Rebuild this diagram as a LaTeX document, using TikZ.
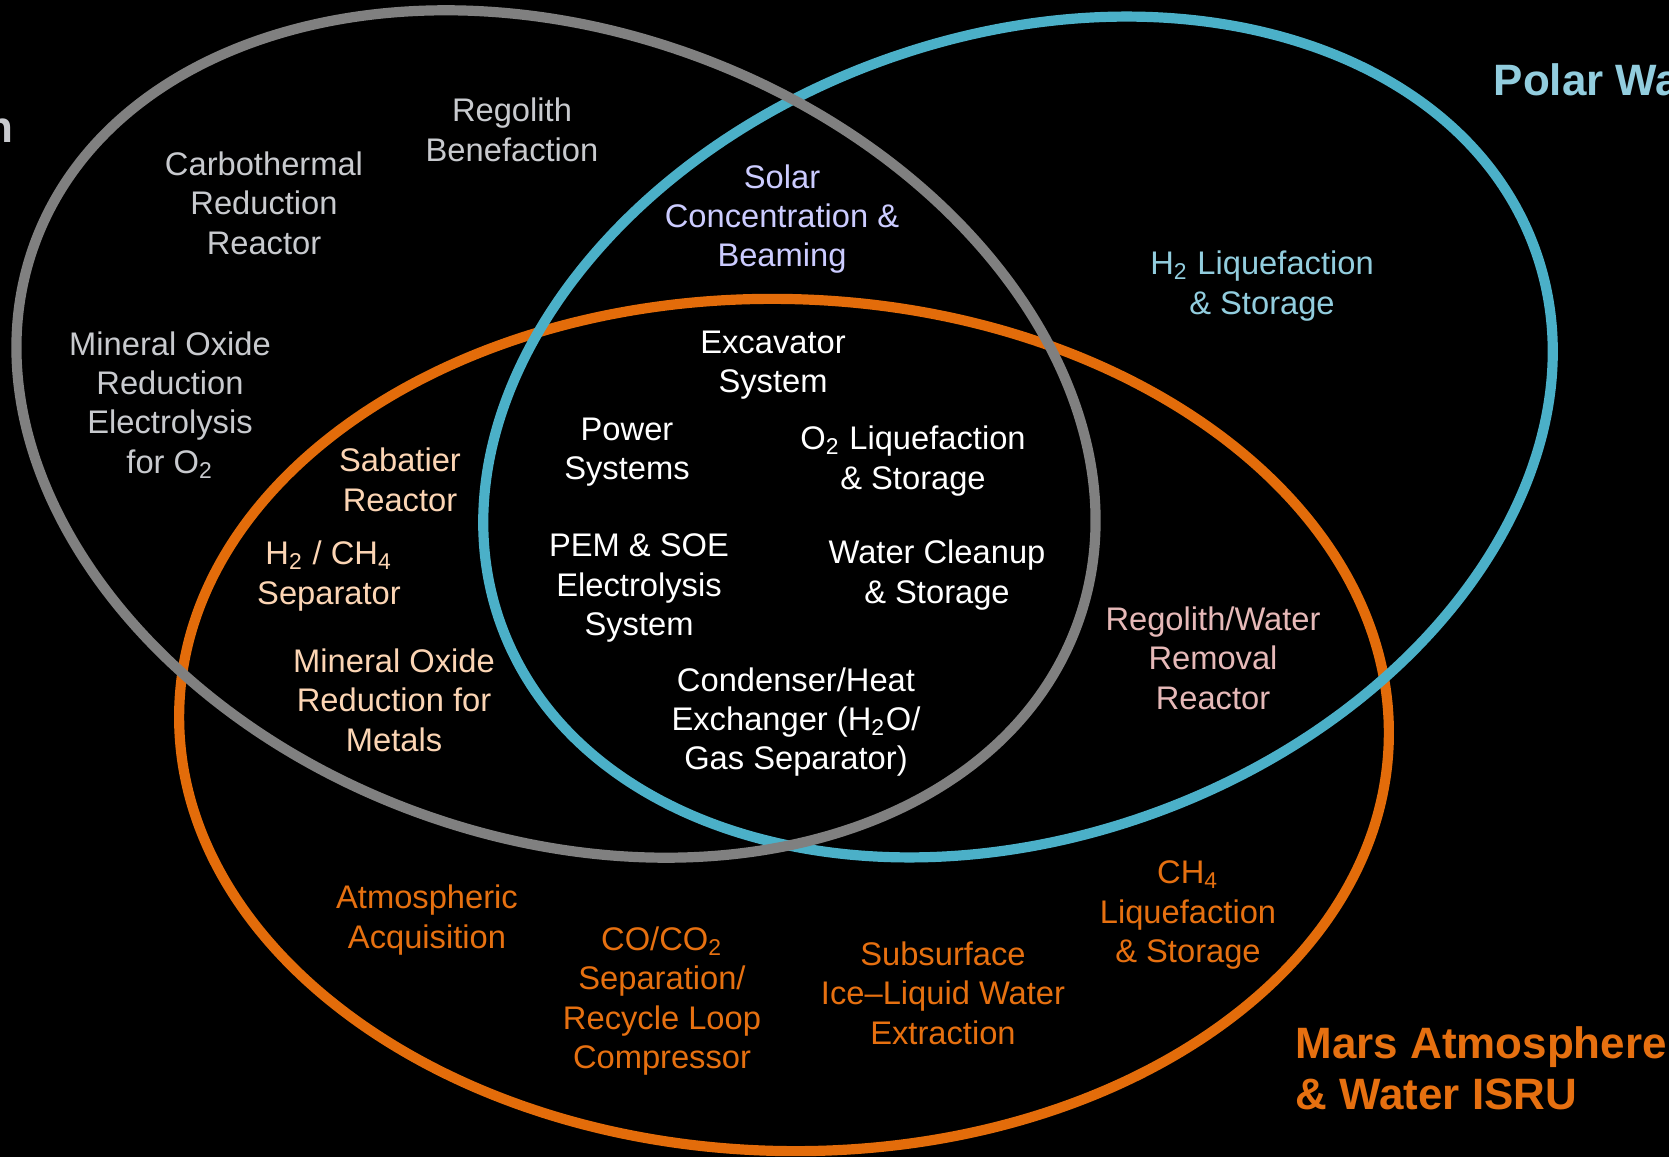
\documentclass[tikz,border=0pt]{standalone}
\usepackage{fontspec}
\setmainfont{Liberation Sans}
\definecolor{ringgray}{RGB}{128,128,128}
\definecolor{ringblue}{RGB}{75,176,200}
\definecolor{ringorange}{RGB}{227,108,10}
\definecolor{lunargray}{RGB}{200,202,206}
\definecolor{solarlilac}{RGB}{204,204,255}
\definecolor{polarblue}{RGB}{146,205,222}
\definecolor{regpink}{RGB}{230,185,184}
\definecolor{marsorange}{RGB}{230,112,16}
\definecolor{peach}{RGB}{252,213,180}
\usetikzlibrary{positioning}

\begin{document}
\begin{tikzpicture}[
    ring/.style={line width=2.9pt},
    item/.style={inner sep=0pt,align=center,font=\fontsize{9.3pt}{11.2pt}\selectfont},
    title/.style={inner sep=0pt,align=left,font=\fontsize{12.5pt}{14.5pt}\selectfont\bfseries}
]
    \fill[black] (0,0) rectangle (16.69,11.57);
    \useasboundingbox (0,0) rectangle (16.69,11.57);

    \draw[ring,ringorange,rotate around={-1.5:(7.84,4.32)}] (7.84,4.32) ellipse (6.05 and 4.26);
    \draw[ring,ringblue,rotate around={20:(10.18,7.20)}] (10.18,7.20) ellipse (5.50 and 4.00);
    \draw[ring,ringgray,rotate around={-20:(5.56,7.23)}] (5.56,7.23) ellipse (5.55 and 4.03);

    \node[item,lunargray] (regben) at (5.12,10.27) {Regolith\\Benefaction};
    \node[item,lunargray] (carbo) at (2.64,9.54) {Carbothermal\\Reduction\\Reactor};
    \node[item,lunargray] (moxel) at (1.70,7.52) {Mineral Oxide\\Reduction\\Electrolysis\\for O\textsubscript{2}};
    \node[item,solarlilac] (solar) at (7.82,9.38) {Solar\\Concentration \&\\Beaming};
    \node[item,polarblue] (htwoliq) at (12.62,8.71) {H\textsubscript{2} Liquefaction\\\& Storage};
    \node[item,white] (excav) at (7.73,7.92) {Excavator\\System};
    \node[item,white] (power) at (6.27,7.05) {Power\\Systems};
    \node[item,white] (otwoliq) at (9.13,6.96) {O\textsubscript{2} Liquefaction\\\& Storage};
    \node[item,peach] (sabat) at (4.00,6.77) {Sabatier\\Reactor};
    \node[item,peach] (hsep) at (3.29,5.81) {H\textsubscript{2} / CH\textsubscript{4}\\Separator};
    \node[item,white] (pem) at (6.39,5.69) {PEM \& SOE\\Electrolysis\\System};
    \node[item,white] (water) at (9.37,5.82) {Water Cleanup\\\& Storage};
    \node[item,peach] (moxmet) at (3.94,4.57) {Mineral Oxide\\Reduction for\\Metals};
    \node[item,white] (conden) at (7.96,4.35) {Condenser/Heat\\Exchanger (H\textsubscript{2}O/\\Gas Separator)};
    \node[item,regpink] (regwat) at (12.13,4.99) {Regolith/Water\\Removal\\Reactor};
    \node[item,marsorange] (atmos) at (4.27,2.37) {Atmospheric\\Acquisition};
    \node[item,marsorange] (coco) at (6.62,1.56) {CO/CO\textsubscript{2}\\Separation/\\Recycle Loop\\Compressor};
    \node[item,marsorange] (subsurf) at (9.43,1.64) {Subsurface\\Ice--Liquid Water\\Extraction};
    \node[item,marsorange] (chliq) at (11.88,2.42) {CH\textsubscript{4}\\Liquefaction\\\& Storage};

    \node[title,lunargray,anchor=base east] (lunar) at (0.14,10.14) {n};
    \node[title,polarblue,anchor=west] (polar) at (14.93,10.77) {Polar Wa};
    \node[title,marsorange,anchor=west] (mars) at (12.95,0.89) {Mars Atmosphere\\\& Water ISRU};
\end{tikzpicture}
\end{document}
